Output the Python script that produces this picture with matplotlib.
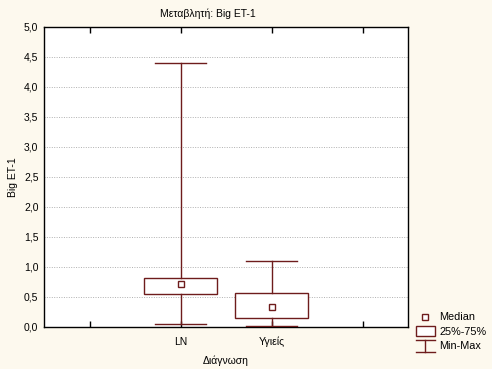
import matplotlib
matplotlib.use("Agg")
import matplotlib.pyplot as plt
from matplotlib.lines import Line2D
from matplotlib.patches import Rectangle
from matplotlib.legend_handler import HandlerBase
from matplotlib.ticker import FuncFormatter, MultipleLocator

categories = ["LN", "Υγιείς"]
mins = [0.05, 0.01]
q1s = [0.545, 0.145]
medians = [0.71, 0.33]
q3s = [0.81, 0.56]
maxs = [4.4, 1.1]
tick_labels = ["", "LN", "Υγιείς", ""]

col = "#6e1c1c"
bg = "#fdf9ee"

plt.rcParams["font.family"] = ["Liberation Sans", "DejaVu Sans"]
plt.rcParams["font.size"] = 7.5

fig = plt.figure(figsize=(4.92, 3.69), dpi=100, facecolor=bg)
ax = fig.add_axes([44/492, 1-327/369, 364/492, 300/369])
ax.set_facecolor("white")

stats = []
for c, lo, a, m, b, hi in zip(categories, mins, q1s, medians, q3s, maxs):
    stats.append(dict(label=c, whislo=lo, q1=a, med=m, q3=b, whishi=hi, fliers=[]))

positions = [1, 2]
ax.bxp(stats, positions=positions, widths=0.81, capwidths=0.56, patch_artist=True,
       showfliers=False,
       boxprops=dict(facecolor="white", edgecolor=col, linewidth=1.0),
       whiskerprops=dict(color=col, linewidth=1.0),
       capprops=dict(color=col, linewidth=1.0),
       medianprops=dict(linestyle="none"), zorder=3)
ax.plot(positions, medians, ls="none", marker="s", ms=4, mfc="white", mec=col,
        mew=1.0, zorder=4)

ax.set_xlim(-0.5, 3.5)
ax.set_ylim(0, 5)
ax.set_xticks([0, 1, 2, 3])
ax.set_xticklabels(tick_labels)
ax.yaxis.set_major_locator(MultipleLocator(0.5))
ax.yaxis.set_major_formatter(FuncFormatter(lambda v, p: f"{v:.1f}".replace(".", ",")))
ax.tick_params(axis="x", direction="in", top=True, length=4, width=1, pad=7)
ax.tick_params(axis="y", direction="in", length=0, pad=4)
ax.grid(axis="y", linestyle=(0, (1, 1.5)), color="#b0b0b0", linewidth=0.7, zorder=0)
ax.set_axisbelow(True)
for s in ax.spines.values():
    s.set_linewidth(1.0)
    s.set_color("black")

ax.set_xlabel("Διάγνωση", labelpad=6)
ax.set_ylabel("Big ET-1", labelpad=4)
fig.text(208/492, 1-14/369, "Μεταβλητή: Big ET-1", ha="center", va="center", fontsize=7.5)


class MinMaxHandler(HandlerBase):
    def create_artists(self, legend, orig_handle, xdescent, ydescent, width, height, fontsize, trans):
        cx = width / 2 - xdescent
        top = height * 1.2 - ydescent
        bot = -height * 0.4 - ydescent
        l1 = Line2D([cx - width/2, cx + width/2], [top, top], color=col, lw=1, transform=trans)
        l2 = Line2D([cx, cx], [top, bot], color=col, lw=1, transform=trans)
        l3 = Line2D([cx - width/2, cx + width/2], [bot, bot], color=col, lw=1, transform=trans)
        return [l1, l2, l3]


class BoxHandler(HandlerBase):
    def create_artists(self, legend, orig_handle, xdescent, ydescent, width, height, fontsize, trans):
        r = Rectangle((-xdescent, -ydescent - height*0.15), width, height*1.3, facecolor="white",
                      edgecolor=col, lw=1, transform=trans)
        return [r]


h_med = Line2D([], [], ls="none", marker="s", ms=4, mfc="white", mec=col, mew=1.0)
h_box = type("BoxH", (), {})()
h_mm = type("MMH", (), {})()
leg = fig.legend([h_med, h_box, h_mm], ["Median", "25%-75%", "Min-Max"],
                 handler_map={type(h_box): BoxHandler(), type(h_mm): MinMaxHandler()},
                 loc="lower left", bbox_to_anchor=(408/492, 10/369), frameon=False,
                 handlelength=1.8, handletextpad=0.4, labelspacing=0.42, fontsize=7.8,
                 borderpad=0.2)

fig.savefig("out.png", dpi=100, facecolor=bg)
